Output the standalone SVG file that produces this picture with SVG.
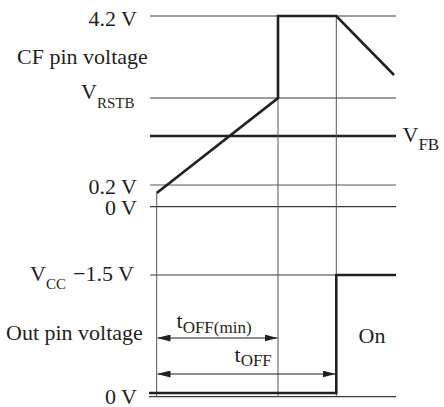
<svg xmlns="http://www.w3.org/2000/svg" width="444" height="407" viewBox="0 0 444 407">
<style>
text{font-family:"Liberation Serif","Times New Roman",serif;font-size:22px;fill:#231f20}
.s{font-size:15px}
.s2{font-size:17px}
.thin{stroke:#3a3a3a;stroke-width:1.2;fill:none}
.grid{stroke:#555;stroke-width:1;fill:none}
.thick{stroke:#231f20;stroke-width:2.6;fill:none;stroke-linejoin:miter}
.arr{stroke:#231f20;stroke-width:1.2;fill:none;marker-start:url(#ah);marker-end:url(#ah)}
</style>
<defs>
<marker id="ah" viewBox="0 0 13 7" refX="13" refY="3.5" markerWidth="13" markerHeight="7" markerUnits="userSpaceOnUse" orient="auto-start-reverse">
<path d="M0,0 L13,3.5 L0,7 z" fill="#231f20"/>
</marker>
</defs>
<g id="connectors">
<line class="thin" x1="150" y1="16" x2="396" y2="16"/>
<line class="thin" x1="150" y1="98" x2="396" y2="98"/>
<line class="thick" x1="150" y1="136" x2="396" y2="136"/>
<line class="grid" x1="150" y1="185" x2="396" y2="185"/>
<line class="thin" x1="150" y1="206.7" x2="396" y2="206.7"/>
<line class="thin" x1="150" y1="275" x2="336.3" y2="275"/>
<line class="thin" x1="149" y1="396.7" x2="396" y2="396.7"/>
<line class="grid" x1="156.7" y1="193" x2="156.7" y2="396.7"/>
<line class="grid" x1="278" y1="98" x2="278" y2="396.7"/>
<line class="grid" x1="336.3" y1="16" x2="336.3" y2="396.7"/>
<polyline class="thick" points="156.7,193 278,98 278,16 336.3,16 394,75"/>
<polyline class="thick" points="149,393 336.3,393 336.3,275 396,275"/>
<line class="arr" x1="157.5" y1="338" x2="277.5" y2="338"/>
<line class="arr" x1="157.5" y1="374" x2="335.5" y2="374"/>
</g>
<g id="label-42v"><text x="137" y="26" text-anchor="end">4.2 V</text></g>
<g id="label-cf"><text x="17" y="64">CF pin voltage</text></g>
<g id="label-vrstb"><text x="81" y="99">V<tspan class="s" dy="9">RSTB</tspan></text></g>
<g id="label-vfb"><text x="402.5" y="142">V<tspan class="s2" dy="8">FB</tspan></text></g>
<g id="label-02v"><text x="137" y="193.5" text-anchor="end">0.2 V</text></g>
<g id="label-0v-top"><text x="137" y="215" text-anchor="end">0 V</text></g>
<g id="label-vcc"><text x="30" y="280.5">V<tspan class="s" dy="8.5">CC</tspan><tspan dy="-8.5" x="73">−1.5 V</tspan></text></g>
<g id="label-out"><text x="6" y="339.5">Out pin voltage</text></g>
<g id="label-0v-bottom"><text x="137" y="404" text-anchor="end">0 V</text></g>
<g id="label-toffmin"><text x="176.5" y="328">t<tspan class="s2" dy="5">OFF(min)</tspan></text></g>
<g id="label-toff"><text x="234.5" y="361.5">t<tspan class="s2" dy="4.5">OFF</tspan></text></g>
<g id="label-on"><text x="358.5" y="342.5">On</text></g>
</svg>
